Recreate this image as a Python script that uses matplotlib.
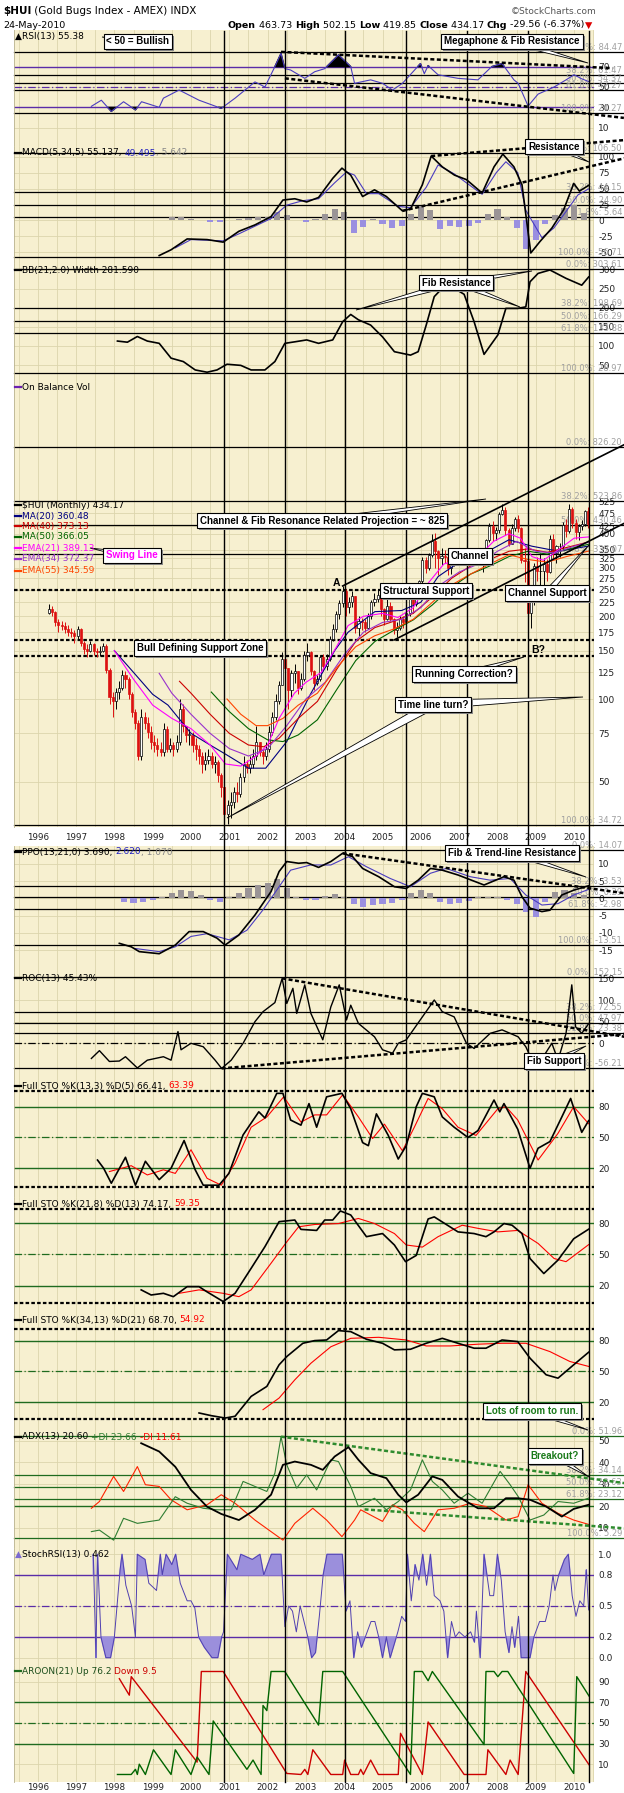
import numpy as np
import pandas as pd
import matplotlib.pyplot as plt
from matplotlib.patches import Polygon
from matplotlib.ticker import FixedLocator, FixedFormatter, NullLocator

# figure geometry in pixels
W, H = 624, 1793
X0, X1 = 14, 594
T0, T1 = 1995.38, 2010.52
BG = '#f7f0d0'
GRID = '#dcd5ad'
NARROW = ['Liberation Sans Narrow', 'Liberation Sans', 'DejaVu Sans']

# ---------------- data ----------------
# monthly $HUI bars, Apr 1996 .. May 2010
hui_close = [
    212, 208, 190, 186, 184, 180, 176, 174, 170,
    180, 160, 152, 150, 158, 150, 148, 150, 156, 128, 102, 98,
    106, 110, 122, 118, 104, 90, 82, 62, 86, 82, 76, 70,
    68, 66, 64, 78, 66, 68, 66, 70, 92, 80, 74, 74,
    68, 66, 62, 58, 60, 62, 58, 59, 53, 48, 38, 41,
    42, 46, 45, 52, 58, 56, 58, 62, 70, 64, 62, 66,
    76, 86, 98, 112, 140, 130, 108, 124, 126, 110, 118, 145,
    148, 126, 114, 118, 142, 132, 140, 166, 180, 204, 224, 248,
    216, 226, 238, 182, 192, 190, 182, 200, 226, 232, 240, 212,
    196, 218, 196, 178, 182, 196, 190, 206, 234, 222, 240, 268,
    322, 300, 334, 376, 346, 326, 332, 330, 300, 310, 334, 338,
    330, 326, 332, 336, 326, 322, 326, 332, 378, 428, 402, 412,
    472, 488, 414, 368, 420, 452, 420, 322, 318, 205, 230, 305,
    292, 292, 310, 290, 382, 340, 360, 360, 430, 410, 490, 436,
    404, 426, 432, 482, 434]
hui_high = [
    222, 218, 210, 195, 192, 190, 186, 182, 178,
    184, 182, 162, 158, 162, 160, 154, 156, 160, 158, 130, 106,
    110, 116, 128, 126, 120, 106, 92, 84, 92, 90, 86, 80,
    74, 72, 70, 82, 80, 72, 70, 74, 100, 96, 80, 78,
    76, 72, 68, 64, 64, 66, 64, 62, 60, 54, 48, 43,
    46, 48, 50, 54, 62, 60, 62, 66, 80, 70, 66, 70,
    80, 90, 104, 116, 148, 146, 130, 128, 134, 126, 124, 150,
    160, 150, 128, 122, 145, 146, 146, 170, 188, 210, 230, 258,
    252, 236, 248, 238, 200, 198, 196, 206, 230, 244, 250, 244,
    214, 232, 226, 198, 190, 200, 200, 210, 236, 240, 244, 272,
    328, 330, 340, 398, 402, 350, 354, 350, 332, 318, 344, 356,
    346, 354, 346, 348, 346, 338, 340, 340, 382, 436, 444, 424,
    480, 512, 500, 418, 432, 458, 468, 422, 356, 322, 256, 312,
    330, 340, 326, 324, 396, 398, 364, 370, 440, 454, 512, 500,
    452, 432, 450, 488, 502]
hui_low = [
    204, 200, 185, 176, 178, 174, 170, 168, 160,
    164, 156, 146, 142, 148, 145, 142, 144, 148, 124, 96, 86,
    92, 100, 108, 110, 100, 86, 78, 60, 60, 78, 72, 66,
    64, 62, 62, 62, 64, 64, 62, 64, 68, 76, 70, 68,
    64, 60, 58, 54, 55, 58, 56, 54, 50, 44, 35, 35,
    37, 40, 42, 44, 50, 54, 54, 56, 60, 62, 58, 60,
    64, 74, 84, 96, 112, 122, 92, 102, 114, 104, 108, 116,
    138, 122, 108, 112, 116, 126, 128, 138, 162, 176, 196, 216,
    200, 206, 216, 174, 170, 178, 176, 180, 196, 218, 226, 200,
    186, 194, 192, 172, 168, 178, 182, 188, 200, 206, 218, 236,
    262, 288, 296, 328, 300, 282, 308, 314, 282, 284, 304, 318,
    310, 318, 314, 322, 316, 310, 308, 290, 326, 372, 376, 378,
    402, 466, 396, 360, 366, 410, 404, 314, 266, 150, 182, 220,
    268, 258, 260, 268, 288, 326, 312, 330, 348, 390, 402, 418,
    384, 380, 412, 428, 420]
first_open = 206

# moving averages (year, value)
ma20 = [(1998.0, 150), (1998.5, 125), (1999.0, 104), (1999.4, 95), (2000.0, 75), (2000.5, 68), (2000.9, 63),
        (2001.5, 56), (2001.95, 56), (2002.5, 70), (2003.1, 103), (2003.75, 150), (2004.1, 175), (2004.8, 208),
        (2005.5, 210), (2006.0, 225), (2006.45, 279), (2007.0, 315), (2007.5, 330), (2008.3, 380), (2008.9, 360),
        (2009.6, 345), (2010.38, 360.5)]
ma40 = [(1999.7, 116), (2000.0, 105), (2000.5, 88), (2001.0, 75), (2001.5, 68), (2001.9, 67), (2002.3, 72),
        (2002.8, 85), (2003.3, 98), (2003.8, 128), (2004.3, 162), (2004.8, 182), (2005.3, 192), (2005.8, 205),
        (2006.3, 235), (2006.8, 275), (2007.3, 305), (2007.8, 322), (2008.3, 345), (2008.8, 352), (2009.3, 342),
        (2009.8, 356), (2010.38, 373.1)]
ma50 = [(2000.53, 106), (2001.0, 90), (2001.5, 78), (2002.0, 71), (2002.4, 70), (2002.8, 74), (2003.3, 84),
        (2003.8, 108), (2004.3, 138), (2004.8, 162), (2005.3, 178), (2005.8, 194), (2006.3, 220), (2006.8, 255),
        (2007.3, 285), (2007.8, 305), (2008.3, 330), (2008.8, 345), (2009.3, 337), (2009.8, 350), (2010.38, 366)]
ema21 = [(1998.0, 150), (1998.5, 118), (1999.0, 95), (1999.5, 85), (2000.0, 78), (2000.5, 68), (2000.9, 58),
         (2001.3, 57), (2001.7, 62), (2002.0, 68), (2002.3, 85), (2002.7, 105), (2003.0, 115), (2003.4, 125),
         (2003.8, 155), (2004.1, 185), (2004.5, 200), (2005.0, 205), (2005.4, 198), (2005.8, 215), (2006.2, 265),
         (2006.6, 310), (2007.0, 322), (2007.5, 330), (2007.9, 375), (2008.3, 400), (2008.6, 385), (2008.9, 330),
         (2009.2, 320), (2009.6, 350), (2010.0, 385), (2010.38, 389.1)]
ema34 = [(1999.17, 124), (1999.5, 105), (2000.0, 88), (2000.5, 75), (2001.0, 66), (2001.5, 62), (2002.0, 66),
         (2002.5, 80), (2003.0, 100), (2003.5, 115), (2004.0, 145), (2004.5, 175), (2005.0, 190), (2005.5, 195),
         (2006.0, 215), (2006.5, 260), (2007.0, 290), (2007.5, 310), (2008.0, 345), (2008.5, 375), (2009.0, 345),
         (2009.5, 340), (2010.0, 360), (2010.38, 372.4)]
ema55 = [(2000.94, 100), (2001.3, 88), (2001.7, 80), (2002.0, 80), (2002.4, 85), (2002.8, 95), (2003.3, 105),
         (2003.8, 130), (2004.3, 155), (2004.8, 170), (2005.3, 180), (2005.8, 195), (2006.3, 225), (2006.8, 260),
         (2007.3, 285), (2007.8, 310), (2008.3, 335), (2008.8, 322), (2009.3, 315), (2009.8, 330), (2010.38, 345.6)]

# RSI(13)
rsi_t = [1997.40, 1997.66, 1997.92, 1998.24, 1998.55, 1998.71, 1999.17, 1999.28, 1999.69, 2000.21, 2000.79,
         2001.15, 2001.67, 2001.93, 2002.19, 2002.35, 2002.45, 2002.60, 2002.97, 2003.23, 2003.49, 2003.85,
         2004.17, 2004.27, 2004.69, 2005.00, 2005.26, 2005.52, 2005.99, 2006.09, 2006.19, 2006.45, 2006.97,
         2007.49, 2007.85, 2008.12, 2008.43, 2008.54, 2008.80, 2009.06, 2009.48, 2009.79, 2010.00, 2010.20, 2010.38]
rsi_v = [31, 37, 26, 35.5, 27.5, 35.5, 30, 39, 47, 37, 29, 39, 55, 50, 70, 83, 68, 66.7, 58.5, 65, 68, 81.5,
         70, 53.6, 57, 53.6, 47, 53.6, 73, 63, 71, 62, 58.5, 57, 70, 73, 57, 53.6, 31.3, 43, 50, 57, 62, 58, 55.4]

# MACD(5,34,5)
macd_t = [1999.17, 1999.48, 1999.90, 2000.42, 2000.84, 2001.25, 2001.67, 2002.09, 2002.40, 2002.71, 2003.02,
          2003.33, 2003.70, 2003.94, 2004.17, 2004.48, 2004.79, 2005.10, 2005.52, 2005.73, 2006.04, 2006.27,
          2006.56, 2006.88, 2007.19, 2007.60, 2007.91, 2008.14, 2008.43, 2008.64, 2008.87, 2009.11, 2009.42,
          2009.73, 2009.99, 2010.14, 2010.38]
macd_v = [-55, -46, -29, -30, -34, -17, -7, 6, 32, 34, 29, 36, 66, 82, 71, 37.5, 48, 37.5, 15, 18, 56, 101,
          84, 71, 64, 43, 84, 104, 84, 56, -51, -33, -12, 17, 58, 46, 55]
macd_sig_t = [1999.59, 2000.00, 2000.84, 2001.25, 2002.09, 2002.50, 2002.92, 2003.33, 2003.75, 2004.06, 2004.27,
              2004.58, 2004.90, 2005.41, 2005.73, 2006.14, 2006.45, 2006.87, 2007.60, 2007.97, 2008.22, 2008.53,
              2008.74, 2009.16, 2009.47, 2009.79, 2010.10, 2010.38]
macd_sig_v = [-43, -30, -32, -21, 3, 24, 31, 34, 59, 76, 71, 42, 42, 22, 20, 52, 87, 73, 41, 75, 92, 75, 16,
              -27, -12, 14, 40, 49.5]
macd_hist_t = [1999.50, 1999.75, 2000.00, 2000.25, 2000.50, 2000.75, 2001.00, 2001.25, 2001.50, 2001.75, 2002.00,
               2002.25, 2002.50, 2002.75, 2003.00, 2003.25, 2003.50, 2003.75, 2004.00, 2004.25, 2004.50, 2004.75,
               2005.00, 2005.25, 2005.50, 2005.75, 2006.00, 2006.25, 2006.50, 2006.75, 2007.00, 2007.25, 2007.50,
               2007.75, 2008.00, 2008.25, 2008.50, 2008.75, 2009.00, 2009.25, 2009.50, 2009.75, 2010.00, 2010.25]
macd_hist_v = [6, 5, 2, 1, -2, -2, 1, 2, 4, 5, 6, 14, 8, 0, -2, 2, 10, 18, 14, -20, -10, 2, -6, -12, -8, 10,
               22, 16, -14, -8, -10, -8, -4, 10, 18, 6, -12, -45, -30, -6, 8, 20, 24, 12]

# Bollinger band width
bbw_t = [1998.08, 1998.34, 1998.60, 1998.86, 1999.17, 1999.48, 1999.80, 2000.11, 2000.42, 2000.68, 2000.94,
         2001.30, 2001.57, 2001.93, 2002.19, 2002.45, 2002.71, 2003.02, 2003.33, 2003.70, 2003.96, 2004.17,
         2004.37, 2004.69, 2005.00, 2005.31, 2005.73, 2005.93, 2006.14, 2006.35, 2006.56, 2006.87, 2007.13,
         2007.39, 2007.65, 2008.01, 2008.22, 2008.53, 2008.74, 2008.85, 2009.06, 2009.37, 2009.79, 2010.20, 2010.38]
bbw_v = [113, 110, 125, 113, 107, 68, 59, 37, 31, 37, 52, 49, 37, 37, 59, 107, 111, 116, 107, 116, 164, 183,
         169, 155, 124, 85, 76, 85, 155, 230, 252, 252, 236, 164, 78, 129, 199, 199, 203, 269, 291, 300, 278,
         260, 281.6]

# PPO(13,21,0)
ppo_t = [1998.13, 1998.44, 1998.65, 1999.17, 1999.59, 1999.95, 2000.32, 2000.68, 2000.89, 2001.25, 2001.67,
         2002.09, 2002.30, 2002.50, 2002.81, 2003.02, 2003.33, 2003.65, 2003.96, 2004.22, 2004.48, 2004.90,
         2005.31, 2005.62, 2005.93, 2006.25, 2006.56, 2006.97, 2007.65, 2008.17, 2008.43, 2008.64, 2008.85,
         2009.16, 2009.37, 2009.68, 2009.99, 2010.38]
ppo_v = [-13, -14, -15.4, -16, -13.5, -9.6, -9.6, -11.5, -13.5, -10.6, -4.8, 2, 7.8, 10.7, 10.2, 10.4, 9,
         10.7, 13.1, 12.1, 8.7, 6.3, 3.4, 2.9, 5.3, 8.7, 8.2, 6.8, 3.9, 6.3, 5.3, 0.5, -2.8, -3.8, -3.4, 1,
         2.4, 3.69]
ppo_sig_t = [1998.55, 1999.17, 1999.59, 2000.00, 2000.42, 2001.00, 2001.46, 2001.88, 2002.30, 2002.60, 2003.12,
             2003.65, 2004.11, 2004.58, 2005.20, 2005.73, 2006.25, 2006.66, 2007.29, 2007.81, 2008.33, 2008.74,
             2009.16, 2009.58, 2009.99, 2010.38]
ppo_sig_v = [-14.5, -15.4, -14, -11, -10.2, -12, -9.2, -3.3, 3.4, 8.2, 9.7, 9.7, 12.1, 9.2, 5.8, 3.4, 7.3,
             8.7, 6.3, 5.3, 5.8, 1, -1.9, -1.5, 1, 2.62]
ppo_hist_t = [1998.25, 1998.50, 1998.75, 1999.00, 1999.25, 1999.50, 1999.75, 2000.00, 2000.25, 2000.50, 2000.75,
              2001.00, 2001.25, 2001.50, 2001.75, 2002.00, 2002.25, 2002.50, 2002.75, 2003.00, 2003.25, 2003.50,
              2003.75, 2004.00, 2004.25, 2004.50, 2004.75, 2005.00, 2005.25, 2005.50, 2005.75, 2006.00, 2006.25,
              2006.50, 2006.75, 2007.00, 2007.25, 2007.50, 2007.75, 2008.00, 2008.25, 2008.50, 2008.75, 2009.00,
              2009.25, 2009.50, 2009.75, 2010.00, 2010.25]
ppo_hist_v = [-1, -1.2, -1, -0.5, 0.5, 1.5, 2.4, 2.2, 1, -0.5, -1, 0.5, 1.5, 3, 4, 4.5, 5.6, 3, 0.5, -0.5,
              -0.3, 0.8, 1.2, 0.5, -1.5, -2.4, -2, -1.5, -1.2, -0.5, 1.5, 2.5, 1.5, -1, -1.5, -1.2, -0.8, 0.3,
              0.5, 0.4, -0.5, -1.5, -4, -5.3, -1, 1.8, 2.5, 1.5, 1]

# ROC(13)
roc_t = [1997.40, 1997.61, 1997.87, 1998.13, 1998.29, 1998.60, 1998.86, 1999.28, 1999.48, 1999.66, 1999.74,
         2000.00, 2000.32, 2000.63, 2000.80, 2001.05, 2001.36, 2001.67, 2001.88, 2002.19, 2002.38, 2002.50,
         2002.66, 2002.76, 2002.97, 2003.13, 2003.44, 2003.65, 2003.87, 2004.06, 2004.17, 2004.37, 2004.79,
         2005.00, 2005.26, 2005.41, 2005.62, 2006.04, 2006.35, 2006.56, 2006.87, 2007.19, 2007.39, 2007.81,
         2008.12, 2008.33, 2008.54, 2008.74, 2009.00, 2009.42, 2009.58, 2009.79, 2009.94, 2010.04, 2010.20, 2010.38]
roc_v = [-35, -17, -42, -41, -31, -57, -39, -31, -39, 27, -15, 0, -8, -39, -58, -39, 0, 50, 73, 94, 150, 92,
         127, 69, 135, 69, 8, 84, 135, 54, 88, 46, 15, -15, -23, 0, 8, 61, 100, 73, 61, 0, -12, 23, 31, 23,
         15, -8, -58, 0, -39, 23, 135, 38, 23, 45.4]

# Full STO %K(13,3) %D(5)
sto1_k_t = [1997.56, 1997.72, 1997.92, 1998.29, 1998.55, 1998.81, 1999.17, 1999.48, 1999.82, 2000.11, 2000.32,
            2000.73, 2000.99, 2001.36, 2001.77, 2001.93, 2002.24, 2002.40, 2002.60, 2002.87, 2003.08, 2003.28,
            2003.54, 2003.94, 2004.17, 2004.48, 2004.63, 2004.84, 2005.15, 2005.41, 2005.62, 2005.88, 2006.04,
            2006.35, 2006.56, 2006.87, 2007.23, 2007.49, 2007.91, 2008.06, 2008.17, 2008.53, 2008.85, 2009.06,
            2009.37, 2009.68, 2009.91, 2010.20, 2010.38]
sto1_k_v = [28, 20, 5.4, 30.7, 3.5, 26.8, 8.9, 20, 47, 18.5, 3.5, 3.5, 15, 52.5, 75, 69, 93, 93, 67, 62, 83,
            60, 89.6, 93, 78, 45, 42, 73, 52, 29, 42, 80, 93, 89.6, 70, 60, 50, 56.7, 86.5, 75, 83, 58, 20,
            39.5, 46, 70, 88, 55, 66.4]
sto1_d_t = [1997.87, 1998.44, 1998.86, 1999.28, 1999.59, 2000.00, 2000.42, 2000.79, 2001.15, 2001.57, 2001.98,
            2002.42, 2002.87, 2003.23, 2003.54, 2003.96, 2004.37, 2004.74, 2005.05, 2005.52, 2005.83, 2006.19,
            2006.56, 2006.97, 2007.44, 2008.01, 2008.22, 2008.53, 2009.06, 2009.58, 2009.99, 2010.38]
sto1_d_v = [16.8, 22.5, 13.5, 18.5, 15, 38, 10.2, 3.5, 25, 60, 70, 89.6, 65, 72, 72, 91.6, 70, 49, 63, 37,
            60, 88, 78, 60, 52, 78, 80, 67, 28, 54, 80, 63.4]

# Full STO %K(21,8) %D(13)
sto2_k_t = [1998.70, 1998.96, 1999.28, 1999.54, 1999.90, 2000.21, 2000.42, 2000.84, 2001.15, 2001.57, 2001.93,
            2002.30, 2002.71, 2002.87, 2003.28, 2003.49, 2003.70, 2003.90, 2004.17, 2004.58, 2005.00, 2005.31,
            2005.60, 2005.88, 2006.19, 2006.35, 2006.97, 2007.39, 2007.70, 2007.91, 2008.17, 2008.38, 2008.64,
            2008.85, 2009.21, 2009.58, 2009.99, 2010.38]
sto2_k_v = [15.9, 11, 12.6, 9.4, 19, 19, 14, 4.7, 12.6, 36.6, 57.4, 81.4, 83, 74, 73, 83, 83, 91.7, 87.8, 67,
            70, 59, 43, 49, 84, 86, 71.6, 70, 67, 71.6, 79.6, 78, 70, 46, 31.6, 44.5, 65, 74.17]
sto2_d_t = [1999.69, 2000.21, 2000.84, 2001.25, 2001.57, 2002.09, 2002.50, 2002.81, 2003.23, 2003.85, 2004.37,
            2004.79, 2005.31, 2005.62, 2006.04, 2006.45, 2007.08, 2007.49, 2008.01, 2008.53, 2009.06, 2009.48,
            2009.79, 2010.38]
sto2_d_v = [12.6, 15.9, 12.6, 9.4, 15.9, 41.5, 62, 76.5, 78.7, 79.6, 84.5, 79.6, 70, 59, 57, 67, 78, 75, 71.6,
            73, 60.5, 46, 43, 59.35]

# Full STO %K(34,13) %D(21)
sto3_k_t = [2000.21, 2000.53, 2000.89, 2001.15, 2001.57, 2001.98, 2002.30, 2002.50, 2002.92, 2003.23, 2003.54,
            2003.85, 2004.17, 2004.58, 2005.00, 2005.31, 2005.73, 2006.14, 2006.56, 2006.97, 2007.39, 2007.70,
            2008.12, 2008.53, 2008.85, 2009.27, 2009.58, 2009.99, 2010.38]
sto3_k_v = [9.7, 7.1, 4.8, 6.5, 25.8, 35.5, 56.5, 64.5, 77.4, 80, 80.6, 89.7, 88.7, 81.3, 77.4, 71, 71.6, 77.4,
            82.2, 77.4, 72.6, 72.6, 80.6, 79, 62.9, 46.8, 43.5, 56.5, 68.7]
sto3_d_t = [2001.88, 2002.30, 2002.71, 2003.13, 2003.65, 2004.17, 2004.90, 2005.62, 2006.14, 2006.77, 2007.49,
            2008.12, 2008.74, 2009.37, 2009.89, 2010.38]
sto3_d_v = [12.9, 24.2, 41.9, 58, 74, 82.2, 83.2, 80.6, 74.8, 74.8, 76.5, 77.4, 77.4, 69.3, 59.7, 54.92]

# ADX(13)
adx_t = [1998.70, 1999.17, 1999.59, 2000.00, 2000.42, 2000.79, 2001.25, 2001.67, 2002.09, 2002.40, 2002.71,
         2003.13, 2003.44, 2003.75, 2004.11, 2004.37, 2004.69, 2005.10, 2005.41, 2005.62, 2005.93, 2006.30,
         2006.56, 2006.97, 2007.49, 2007.91, 2008.22, 2008.53, 2008.85, 2009.27, 2009.68, 2009.99, 2010.38]
adx_v = [48.8, 45, 38, 27.4, 19.7, 16.4, 13.6, 18.3, 25.2, 38.9, 40.4, 38.9, 36.6, 42.7, 47, 41.2, 35.1, 32.8,
         25.2, 21.7, 25.2, 33.6, 32, 24.4, 19, 19, 23.6, 23.6, 22.9, 19.8, 15.2, 18.7, 20.6]
pdi_t = [1997.40, 1997.61, 1997.98, 1998.24, 1998.60, 1999.17, 1999.59, 1999.90, 2000.32, 2000.68, 2001.05,
         2001.36, 2001.67, 2001.98, 2002.19, 2002.35, 2002.50, 2002.76, 2003.02, 2003.28, 2003.65, 2003.85,
         2004.17, 2004.37, 2004.79, 2005.10, 2005.41, 2005.73, 2006.04, 2006.30, 2006.56, 2006.87, 2007.23,
         2007.60, 2008.07, 2008.33, 2008.54, 2008.85, 2009.21, 2009.58, 2009.99, 2010.38]
pdi_v = [8.3, 9, 4.4, 14.4, 12.1, 13.6, 24.3, 21.3, 19, 18.3, 18.3, 31.3, 29, 26.7, 35.1, 51.8, 38.9, 28.2,
         34.3, 27.4, 41.2, 40.4, 29, 19.8, 23.6, 18.3, 22.1, 27.4, 41.2, 31.3, 27.4, 21.3, 25.9, 21.3, 35.9,
         29.8, 24.4, 13.6, 15.9, 22.1, 21.3, 23.66]
mdi_t = [1997.40, 1997.61, 1997.98, 1998.24, 1998.60, 1998.81, 1999.17, 1999.48, 1999.90, 2000.42, 2000.79,
         2001.15, 2001.67, 2002.09, 2002.40, 2002.71, 2003.18, 2003.54, 2003.94, 2004.27, 2004.43, 2005.00,
         2005.26, 2005.52, 2005.83, 2006.09, 2006.45, 2006.87, 2007.29, 2007.70, 2008.22, 2008.54, 2008.80,
         2009.16, 2009.58, 2009.99, 2010.38]
mdi_v = [19, 22.1, 33.6, 26.7, 38.1, 29.8, 29, 22.9, 18.3, 20.6, 25.2, 21.3, 13.6, 8.3, 4.4, 12.1, 19, 13.6,
         6, 13.6, 18.3, 13, 20.6, 18.3, 12.1, 8.3, 18.3, 19, 21.3, 19.8, 13.6, 15.2, 29.8, 21.3, 16.7, 13.6, 11.61]

# StochRSI(13)
srsi_t = [1997.45, 1997.52, 1997.56, 1997.65, 1997.78, 1997.90, 1998.00, 1998.15, 1998.20, 1998.30,
          1998.45, 1998.55, 1998.60, 1998.80, 1998.90, 1999.10, 1999.20, 1999.25, 1999.35, 1999.50,
          1999.60, 1999.72, 1999.90, 2000.00, 2000.10, 2000.20, 2000.35, 2000.45, 2000.55, 2000.70,
          2000.80, 2000.85, 2000.95, 2001.20, 2001.30, 2001.60, 2001.80, 2001.90, 2002.00, 2002.10,
          2002.35, 2002.45, 2002.55, 2002.65, 2002.75, 2002.85, 2002.95, 2003.05, 2003.15, 2003.25,
          2003.35, 2003.45, 2003.55, 2003.95, 2004.05, 2004.15, 2004.25, 2004.35, 2004.45, 2004.55,
          2004.70, 2004.80, 2004.90, 2005.00, 2005.10, 2005.20, 2005.40, 2005.50, 2005.60, 2005.65,
          2005.75, 2005.85, 2005.95, 2006.05, 2006.15, 2006.25, 2006.35, 2006.50, 2006.60, 2006.70,
          2006.80, 2006.90, 2007.00, 2007.15, 2007.30, 2007.40, 2007.45, 2007.55, 2007.65, 2007.80,
          2007.90, 2008.00, 2008.10, 2008.20, 2008.30, 2008.38, 2008.45, 2008.55, 2008.62, 2008.85,
          2008.95, 2009.10, 2009.25, 2009.35, 2009.45, 2009.50, 2009.60, 2009.75, 2009.85, 2009.95,
          2010.05, 2010.15, 2010.25, 2010.32, 2010.38]
srsi_v = [1.0, 0.0, 1.0, 0.2, 0.0, 0.0, 0.2, 0.85, 1.0, 0.7,
          0.5, 0.2, 1.0, 0.95, 0.72, 0.65, 1.0, 0.8, 1.0, 0.9,
          1.0, 0.72, 0.55, 0.55, 0.48, 0.2, 0.1, 0.05, 0.0, 0.0,
          0.2, 0.25, 1.0, 0.85, 1.0, 0.95, 1.0, 0.8, 0.9, 1.0,
          1.0, 0.3, 0.5, 0.45, 0.25, 0.5, 0.35, 0.2, 0.0, 0.05,
          0.4, 0.8, 1.0, 1.0, 0.45, 0.55, 0.0, 0.25, 0.1, 0.2,
          0.35, 0.35, 0.2, 0.0, 0.2, 0.0, 0.25, 0.4, 0.35, 1.0,
          0.55, 0.9, 0.75, 1.0, 0.7, 1.0, 0.6, 0.55, 0.45, 0.0,
          0.35, 0.2, 0.25, 0.2, 0.25, 0.15, 0.45, 0.0, 1.0, 0.6,
          0.6, 1.0, 0.75, 0.25, 0.05, 0.3, 0.1, 0.4, 0.0, 0.0,
          0.2, 0.35, 0.35, 0.5, 0.8, 0.65, 0.8, 0.95, 1.0, 0.6,
          0.4, 0.55, 0.5, 0.85, 0.462]

# AROON(21)
aroon_up = [(1998.08, 0), (1998.44, 0), (1998.55, 5), (1998.60, 0), (1998.65, 10), (1998.81, 0), (1999.02, 24),
            (1999.48, 0), (1999.59, 24), (2000.00, 0), (2000.16, 17), (2000.47, 0), (2000.58, 52), (2001.46, 5),
            (2001.62, 14), (2001.83, 0), (2001.88, 67), (2001.98, 62), (2002.09, 100), (2002.45, 100),
            (2003.33, 48), (2003.44, 100), (2003.96, 100), (2005.73, 0), (2005.83, 100), (2006.04, 100),
            (2006.19, 91), (2006.30, 100), (2007.65, 29), (2007.70, 100), (2007.91, 100), (2008.01, 95),
            (2008.12, 100), (2008.27, 100), (2009.99, 1), (2010.07, 95), (2010.39, 76.2)]
aroon_down = [(1998.13, 93), (1998.39, 77), (1998.44, 95), (2000.16, 12), (2000.27, 100), (2000.84, 100),
              (2002.50, 1), (2002.87, 0), (2002.97, 5), (2003.05, 0), (2003.18, 24), (2003.65, 0), (2003.96, 0),
              (2004.01, 14), (2004.17, 0), (2004.37, 0), (2004.43, 5), (2004.50, 0), (2004.69, 14), (2004.89, 0),
              (2005.41, 0), (2005.47, 40), (2006.04, 0), (2006.19, 51), (2007.13, 0), (2007.70, 0), (2007.75, 24),
              (2008.22, 0), (2008.33, 14), (2008.54, 0), (2008.74, 100), (2010.39, 9.5)]

time_lines = [2000.86, 2002.45, 2004.02, 2005.60, 2007.20, 2008.80, 2010.39]
years = list(range(1996, 2011))

# fibonacci levels
rsi_fib = [84.47, 61.47, 54.37, 47.27, 24.27]
macd_fib = [106.50, 44.15, 24.90, 5.64, -56.71]
bb_fib = [303.61, 198.69, 166.29, 133.88, 28.97]
price_fib = [826.20, 523.86, 430.46, 337.07, 34.72]
ppo_fib = [14.07, 3.53, 0.29, -2.98, -13.51]
roc_fib = [152.15, 72.55, 47.97, 23.38, -56.21]
adx_fib = [51.96, 34.14, 28.63, 23.12, 5.29]
fib_pct = ['0.0%', '38.2%', '50.0%', '61.8%', '100.0%']

# ---------------- drawing ----------------
fig = plt.figure(figsize=(W / 100, H / 100), dpi=100)
fig.patch.set_facecolor('white')


def panel(top, bot, ylo, yhi, ticks, labels=None, log=False):
    ax = fig.add_axes([X0 / W, 1 - bot / H, (X1 - X0) / W, (bot - top) / H])
    ax.set_facecolor(BG)
    if log:
        ax.set_yscale('log')
    ax.set_xlim(T0, T1)
    ax.set_ylim(ylo, yhi)
    ax.yaxis.tick_right()
    ax.yaxis.set_major_locator(FixedLocator(ticks))
    ax.yaxis.set_major_formatter(FixedFormatter(labels if labels else [str(t) for t in ticks]))
    ax.yaxis.set_minor_locator(NullLocator())
    ax.xaxis.set_major_locator(FixedLocator(np.arange(1995.5, 2011, 0.5)))
    ax.xaxis.set_minor_locator(NullLocator())
    ax.tick_params(axis='x', length=0, labelbottom=False)
    ax.tick_params(axis='y', length=0, pad=3, labelsize=6.5, labelcolor='#222222')
    ax.grid(True, color=GRID, lw=0.6)
    ax.set_axisbelow(True)
    for s in ax.spines.values():
        s.set_visible(False)
    ax.spines['left'].set_visible(True)
    ax.spines['left'].set_color('#b8b290')
    ax.spines['left'].set_linewidth(0.6)
    return ax


def fib(ax, levels, color='black'):
    for pct, lv in zip(fib_pct, levels):
        ax.plot([T0, T1 + 0.75], [lv, lv], color=color, lw=0.9, clip_on=False, zorder=2)
        ax.annotate('%s: %.2f' % (pct, lv), xy=(1, lv), xycoords=ax.get_yaxis_transform(),
                    xytext=(28, 0), textcoords='offset pixels', ha='right', va='bottom',
                    fontsize=6.0, color='#a0a0a0', annotation_clip=False, zorder=3)


def hline(ax, v, color, ls='-', lw=1.0):
    ax.axhline(v, color=color, ls=ls, lw=lw, zorder=2)


def trend(ax, p0, p1, color='black', lw=1.8):
    ax.plot([p0[0], p1[0]], [p0[1], p1[1]], color=color, lw=lw, ls=(0, (1.6, 1.0)), clip_on=False, zorder=4)


DASHDOT = (0, (6, 2, 1, 2))
GREEN = '#1f6b1f'
PURPLE = '#5a2ca8'

rsi_ax = panel(30, 146, -8, 106, [10, 30, 50, 70])
macd_ax = panel(146, 263, -66.7, 116.7, [-50, -25, 0, 25, 50, 75, 100])
bb_ax = panel(263, 381, 7.9, 318.4, [50, 100, 150, 200, 250, 300])
price_ticks = [50, 75, 100, 125, 150, 175, 200, 225, 250, 275, 300, 325, 350, 400, 425, 475, 525]
px_ax = panel(381, 827, 34.2, 1438, price_ticks, log=True)
ppo_ax = panel(846, 972, -21.3, 15.2, [-15, -10, -5, 0, 5, 10])
roc_ax = panel(972, 1080, -84.8, 164.7, [0, 50, 100, 150])
s1_ax = panel(1080, 1197, -8, 106, [20, 50, 80])
s2_ax = panel(1197, 1313, -6.3, 105.1, [20, 50, 80])
s3_ax = panel(1313, 1431, -7.8, 106.8, [20, 50, 80])
adx_ax = panel(1431, 1548, 0.8, 54.4, [10, 20, 30, 40, 50])
srsi_ax = panel(1548, 1665, -0.071, 1.061, [0, 0.2, 0.5, 0.8, 1.0], ['0.0', '0.2', '0.5', '0.8', '1.0'])
aroon_ax = panel(1665, 1782, -7.3, 106.3, [10, 30, 50, 70, 90])

# RSI
hline(rsi_ax, 70, PURPLE)
hline(rsi_ax, 30, PURPLE)
hline(rsi_ax, 50, PURPLE, DASHDOT, 0.9)
fib(rsi_ax, rsi_fib)
rt, rv = np.array(rsi_t), np.array(rsi_v)
rsi_ax.fill_between(rt, rv, 70, where=rv >= 70, interpolate=True, color='black', zorder=3)
rsi_ax.fill_between(rt, rv, 30, where=rv <= 30, interpolate=True, color='black', zorder=3)
rsi_ax.plot(rt, rv, color='#4a3cc0', lw=0.8, zorder=4)
trend(rsi_ax, (2002.35, 84.5), (2011.0, 68.5))
trend(rsi_ax, (2002.45, 58.5), (2011.3, 19.6))

# MACD
fib(macd_ax, macd_fib)
mh = np.array(macd_hist_v)
macd_ax.bar(macd_hist_t, mh, width=0.16, color=np.where(mh >= 0, '#9a9496', '#9a8fe0'), zorder=3)
macd_ax.plot(macd_sig_t, macd_sig_v, color='#4a3cc0', lw=0.8, zorder=4)
macd_ax.plot(macd_t, macd_v, color='black', lw=1.2, zorder=5)
trend(macd_ax, (2006.27, 101), (2011.32, 126))
trend(macd_ax, (2005.52, 15), (2011.32, 97.5))

# BB width
fib(bb_ax, bb_fib)
bb_ax.plot(bbw_t, bbw_v, color='black', lw=1.2, zorder=4)

# price panel
fib(px_ax, price_fib)
for lv in [250, 164, 143]:
    px_ax.plot([T0, T1], [lv, lv], color='black', lw=1.6, ls=(0, (1.6, 1.0)), zorder=3)
months = pd.date_range('1996-04-01', '2010-05-01', freq='MS')
mt = np.asarray(months.year + (months.month - 1) / 12 + 0.04, dtype=float)
c = np.array(hui_close, dtype=float)
o = np.r_[first_open, c[:-1]]
hi = np.maximum(np.array(hui_high, dtype=float), np.maximum(o, c))
lo = np.minimum(np.array(hui_low, dtype=float), np.minimum(o, c))
up = c >= o
edge = np.where(up, 'black', '#dd1111')
px_ax.vlines(mt, lo, hi, colors=edge, lw=0.7, zorder=5)
px_ax.bar(mt, np.maximum(np.abs(c - o), 0.5), bottom=np.minimum(o, c), width=0.055,
          color=np.where(up, 'white', '#dd1111'), edgecolor=edge, lw=0.5, zorder=6)
for pts, col in [(ma20, '#000080'), (ma40, '#cc0000'), (ma50, '#006400'),
                 (ema21, '#ff00ff'), (ema34, '#9932cc'), (ema55, '#ff4500')]:
    px_ax.plot([p[0] for p in pts], [p[1] for p in pts], color=col, lw=0.8, zorder=7)
px_ax.plot([2003.96, 2011.32], [258, 845], color='black', lw=1.2, clip_on=False, zorder=8)
px_ax.plot([2005.30, 2011.32], [164, 437], color='black', lw=1.2, clip_on=False, zorder=8)

# PPO
fib(ppo_ax, ppo_fib)
ph = np.array(ppo_hist_v)
ppo_ax.bar(ppo_hist_t, ph, width=0.16, color=np.where(ph >= 0, '#9a9496', '#9a8fe0'), zorder=3)
ppo_ax.plot(ppo_sig_t, ppo_sig_v, color='#4a3cc0', lw=0.8, zorder=4)
ppo_ax.plot(ppo_t, ppo_v, color='black', lw=1.2, zorder=5)
trend(ppo_ax, (2003.96, 13.1), (2011.32, 1.5))

# ROC
fib(roc_ax, roc_fib)
hline(roc_ax, 0, 'black', DASHDOT, 0.9)
roc_ax.plot(roc_t, roc_v, color='black', lw=1.0, zorder=4)
trend(roc_ax, (2002.38, 150), (2011.32, 15))
trend(roc_ax, (2000.80, -58), (2011.32, 21.5))

# stochastics
for ax, kt, kv, dt, dv, ext in [(s1_ax, sto1_k_t, sto1_k_v, sto1_d_t, sto1_d_v, (95.6, 2.1)),
                                (s2_ax, sto2_k_t, sto2_k_v, sto2_d_t, sto2_d_v, (93.7, 3.7)),
                                (s3_ax, sto3_k_t, sto3_k_v, sto3_d_t, sto3_d_v, (91.0, 4.2))]:
    hline(ax, 80, GREEN)
    hline(ax, 20, GREEN)
    hline(ax, 50, GREEN, DASHDOT, 0.9)
    for lv in ext:
        ax.plot([T0, T1], [lv, lv], color='black', lw=1.6, ls=(0, (1.6, 1.0)), zorder=3)
    ax.plot(dt, dv, color='#ff0000', lw=0.8, zorder=4)
    ax.plot(kt, kv, color='black', lw=1.2, zorder=5)

# ADX
fib(adx_ax, adx_fib, color=GREEN)
hline(adx_ax, 20, GREEN)
adx_ax.plot(mdi_t, mdi_v, color='#ff2200', lw=0.8, zorder=4)
adx_ax.plot(pdi_t, pdi_v, color='#2e7d32', lw=0.8, zorder=4)
adx_ax.plot(adx_t, adx_v, color='black', lw=1.3, zorder=5)
trend(adx_ax, (2002.35, 51.8), (2011.32, 30.5), color='#2e8b2e')
trend(adx_ax, (2004.53, 18.5), (2011.32, 9.8), color='#2e8b2e')

# StochRSI
hline(srsi_ax, 0.8, PURPLE)
hline(srsi_ax, 0.2, PURPLE)
hline(srsi_ax, 0.5, PURPLE, DASHDOT, 0.9)
st, sv = np.array(srsi_t), np.array(srsi_v)
srsi_ax.fill_between(st, sv, 0.8, where=sv >= 0.8, interpolate=True, color='#9b8fdc', zorder=3)
srsi_ax.fill_between(st, sv, 0.2, where=sv <= 0.2, interpolate=True, color='#9b8fdc', zorder=3)
srsi_ax.plot(st, sv, color='#5040b0', lw=0.7, zorder=4)

# AROON
hline(aroon_ax, 70, GREEN)
hline(aroon_ax, 30, GREEN)
hline(aroon_ax, 50, GREEN, DASHDOT, 0.9)
aroon_ax.plot([p[0] for p in aroon_down], [p[1] for p in aroon_down], color='#cc0000', lw=1.0, zorder=4)
aroon_ax.plot([p[0] for p in aroon_up], [p[1] for p in aroon_up], color='#006400', lw=1.0, zorder=5)

# ---------------- overlay: labels, time lines, callouts ----------------
ov = fig.add_axes([0, 0, 1, 1], zorder=20)
ov.set_xlim(0, W)
ov.set_ylim(H, 0)
ov.axis('off')
ov.patch.set_alpha(0)


def px(t):
    return X0 + (t - T0) / (T1 - T0) * (X1 - X0)


for t in time_lines:
    ov.plot([px(t), px(t)], [31, 1782], color='black', lw=1.0, zorder=5)

for y in years:
    ov.text(px(y), 838, str(y), ha='center', va='center', fontsize=6.3, color='#222222')
    ov.text(px(y), 1787, str(y), ha='center', va='center', fontsize=6.3, color='#222222')


def chain(x, y, parts, fs=6.5, right=False):
    prev = None
    for s, col, w in (parts[::-1] if right else parts):
        if prev is None:
            prev = ov.text(x, y, s, color=col, weight=w, fontsize=fs, va='center',
                           ha='right' if right else 'left', zorder=40)
        else:
            prev = ov.annotate(s, xy=(0 if right else 1, 0.5), xycoords=prev, color=col, weight=w,
                               fontsize=fs, va='center', ha='right' if right else 'left', zorder=40)
    return prev


# header
chain(3, 11, [('$HUI', 'black', 'bold'), (' (Gold Bugs Index - AMEX) INDX', 'black', 'normal')], fs=7.5)
ov.text(3, 25, '24-May-2010', fontsize=6.8, va='center')
ov.text(597, 12, '\u00a9StockCharts.com', fontsize=6.5, va='center', ha='right', color='#555555')
chain(592, 25, [('Open', 'black', 'bold'), (' 463.73 ', 'black', 'normal'), ('High', 'black', 'bold'),
                (' 502.15 ', 'black', 'normal'), ('Low', 'black', 'bold'), (' 419.85 ', 'black', 'normal'),
                ('Close', 'black', 'bold'), (' 434.17 ', 'black', 'normal'), ('Chg', 'black', 'bold'),
                (' -29.56 (-6.37%)', 'black', 'normal'), ('\u25bc', '#dd0000', 'normal')], fs=6.8, right=True)

# panel labels
K = 'black'
labels = [
    (36, None, [('\u25b2', K, 'normal'), ('RSI(13) 55.38', K, 'normal')]),
    (153, K, [('MACD(5,34,5) 55.137, ', K, 'normal'), ('49.495', '#2020c0', 'normal'), (', 5.642', '#888888', 'normal')]),
    (270, K, [('BB(21,2.0) Width 281.590', K, 'normal')]),
    (387, '#6a1fb0', [('On Balance Vol', K, 'normal')]),
    (505, K, [('$HUI (Monthly) 434.17', K, 'normal')]),
    (516, '#000080', [('MA(20) 360.48', '#000080', 'normal')]),
    (526, '#cc0000', [('MA(40) 373.13', '#cc0000', 'normal')]),
    (537, '#006400', [('MA(50) 366.05', '#006400', 'normal')]),
    (548, '#ff00ff', [('EMA(21) 389.13', '#ff00ff', 'normal')]),
    (559, '#9932cc', [('EMA(34) 372.37', '#9932cc', 'normal')]),
    (571, '#ff4500', [('EMA(55) 345.59', '#ff4500', 'normal')]),
    (852, K, [('PPO(13,21,0) 3.690, ', K, 'normal'), ('2.620', '#2020c0', 'normal'), (', 1.070', '#888888', 'normal')]),
    (978, K, [('ROC(13) 45.43%', K, 'normal')]),
    (1086, K, [('Full STO %K(13,3) %D(5) 66.41, ', K, 'normal'), ('63.39', '#ff0000', 'normal')]),
    (1204, K, [('Full STO %K(21,8) %D(13) 74.17, ', K, 'normal'), ('59.35', '#ff0000', 'normal')]),
    (1320, K, [('Full STO %K(34,13) %D(21) 68.70, ', K, 'normal'), ('54.92', '#ff0000', 'normal')]),
    (1437, K, [('ADX(13) 20.60 ', K, 'normal'), ('+DI 23.66 ', '#2e7d32', 'normal'), ('-DI 11.61', '#ff0000', 'normal')]),
    (1554, None, [('\u25b2', '#7b6ad0', 'normal'), ('StochRSI(13) 0.462', K, 'normal')]),
    (1671, GREEN, [('AROON(21) Up 76.2 ', '#1a4d1a', 'normal'), ('Down 9.5', '#cc0000', 'normal')]),
]
for y, dash, parts in labels:
    if dash is None:
        chain(15, y, parts)
    else:
        ov.plot([15, 21], [y, y], color=dash, lw=1.6, zorder=40)
        chain(22, y, parts)


def wedge(x0, y0, x1, y1, w=3.0):
    dx, dy = x1 - x0, y1 - y0
    L = np.hypot(dx, dy)
    nx, ny = -dy / L * w, dx / L * w
    ov.add_patch(Polygon([(x0 + nx, y0 + ny), (x0 - nx, y0 - ny), (x1, y1)], closed=True,
                         fc='white', ec='black', lw=0.6, zorder=28))


CFS = 7.0


def callout(text, cx, cy, tips=(), color='black', w=3.0):
    for tip in tips:
        wedge(cx, cy, tip[0], tip[1], w)
    box = dict(boxstyle='square,pad=0.3', fc='white', ec='black', lw=0.8)
    ov.text(cx + 2, cy + 2, text, ha='center', va='center', fontsize=CFS, weight='bold', family=NARROW,
            fontstretch='condensed', color=(0, 0, 0, 0),
            bbox=dict(boxstyle='square,pad=0.3', fc='#8a8a8a', ec='none'), zorder=29)
    ov.text(cx, cy, text, ha='center', va='center', fontsize=CFS, weight='bold', family=NARROW,
            fontstretch='condensed', color=color, bbox=box, zorder=30)


callout('< 50 = Bullish', 138, 41.5, [(102, 37)])
callout('Megaphone & Fib Resistance', 512, 41.5, [(588, 63)])
callout('Resistance', 554, 146.5, [(589, 162)])
callout('Fib Resistance', 456, 282.5, [(356, 310), (532, 271), (520, 307)])
callout('Channel & Fib Resonance Related Projection = ~ 825', 322, 520.5, [(486, 499)])
callout('Swing Line', 132, 555.5, [(90, 548)], color='#ff00ff')
callout('Channel', 470, 556)
callout('Structural Support', 426, 590.5)
callout('Channel Support', 547, 593, [(589, 545)])
callout('Bull Defining Support Zone', 200, 648)
callout('Running Correction?', 464, 674, [(524, 657)])
callout('Time line turn?', 433, 704.5, [(227, 818), (583, 697)], w=4.5)
callout('Fib & Trend-line Resistance', 512, 853, [(586, 877)])
callout('Fib Support', 554, 1061, [(586, 1046)])
callout('Lots of room to run.', 532, 1411, [(588, 1430)], color='#1a7a1a')
callout('Breakout?', 555, 1456, [(589, 1477)], color='#1a7a1a')

ov.text(336, 583, 'A', fontsize=7.5, weight='bold', family=NARROW, ha='center', va='center', zorder=30)
ov.text(538, 650, 'B?', fontsize=7.5, weight='bold', family=NARROW, ha='center', va='center', zorder=30)

fig.savefig('out.png', dpi=100, facecolor='white')
